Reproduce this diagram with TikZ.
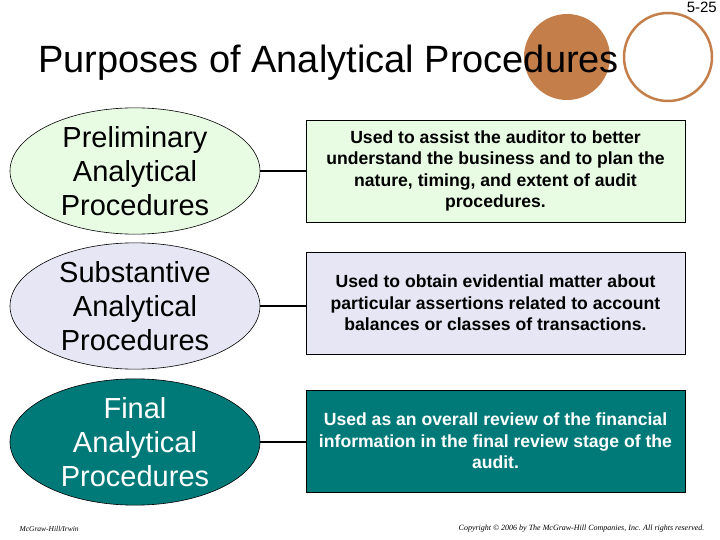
\documentclass[tikz,border=0pt]{standalone}
\usepackage{fontspec}
\setmainfont{Liberation Sans}
\newfontfamily\serifit{Liberation Serif}
\usetikzlibrary{shapes.geometric}
\definecolor{lgreen}{HTML}{E8FCE4}
\definecolor{lav}{HTML}{E6E6F4}
\definecolor{teal1}{HTML}{007A78}
\definecolor{copper}{HTML}{C47E4A}
\begin{document}
\begin{tikzpicture}[x=1pt,y=-1pt,
  ell/.style={ellipse,draw=black,line width=0.6pt,minimum width=250pt,align=center,font=\fontsize{29}{34}\selectfont,inner sep=0pt},
  box/.style={draw=black,line width=0.6pt,minimum width=379pt,minimum height=102pt,align=center,font=\fontsize{17.6}{21.5}\selectfont\bfseries},
  conn/.style={line width=2.2pt}]
\useasboundingbox (0,0) rectangle (720,540);
\fill[copper] (567,57) circle (43);
\draw[copper,line width=2.5pt] (668,57) circle (44);
\node[anchor=base west,font=\fontsize{38}{44}\selectfont,inner sep=0pt] (title) at (38,73) {Purposes of Analytical Procedures};
\node[anchor=north east,font=\fontsize{15}{18}\selectfont,inner sep=1pt] (num) at (718,1) {5-25};
\node[ell,fill=lgreen,minimum height=126pt] (e1) at (135,171) {Preliminary\\Analytical\\Procedures};
\node[ell,fill=lav,minimum height=112pt] (e2) at (135,306) {Substantive\\Analytical\\Procedures};
\node[ell,fill=teal1,text=white,minimum height=114pt] (e3) at (135,442) {Final\\Analytical\\Procedures};
\node[box,fill=lgreen] (b1) at (495.5,171) {Used to assist the auditor to better\\understand the business and to plan the\\nature, timing, and extent of audit\\procedures.};
\node[box,fill=lav] (b2) at (495.5,303) {Used to obtain evidential matter about\\particular assertions related to account\\balances or classes of transactions.};
\node[box,fill=teal1,text=white] (b3) at (495.5,441) {Used as an overall review of the financial\\information in the final review stage of the\\audit.};
\draw[conn] (e1.east) -- (b1.west);
\draw[conn] (e2.east) -- (e2.east -| b2.west);
\draw[conn] (e3.east) -- (e3.east -| b3.west);
\node[anchor=west,font=\serifit\itshape\fontsize{7.5}{8}\selectfont] (f1) at (16,529) {McGraw-Hill/Irwin};
\node[anchor=east,font=\serifit\itshape\fontsize{8}{9}\selectfont] (f2) at (708,529) {Copyright © 2006 by The McGraw-Hill Companies, Inc. All rights reserved.};
\end{tikzpicture}
\end{document}
